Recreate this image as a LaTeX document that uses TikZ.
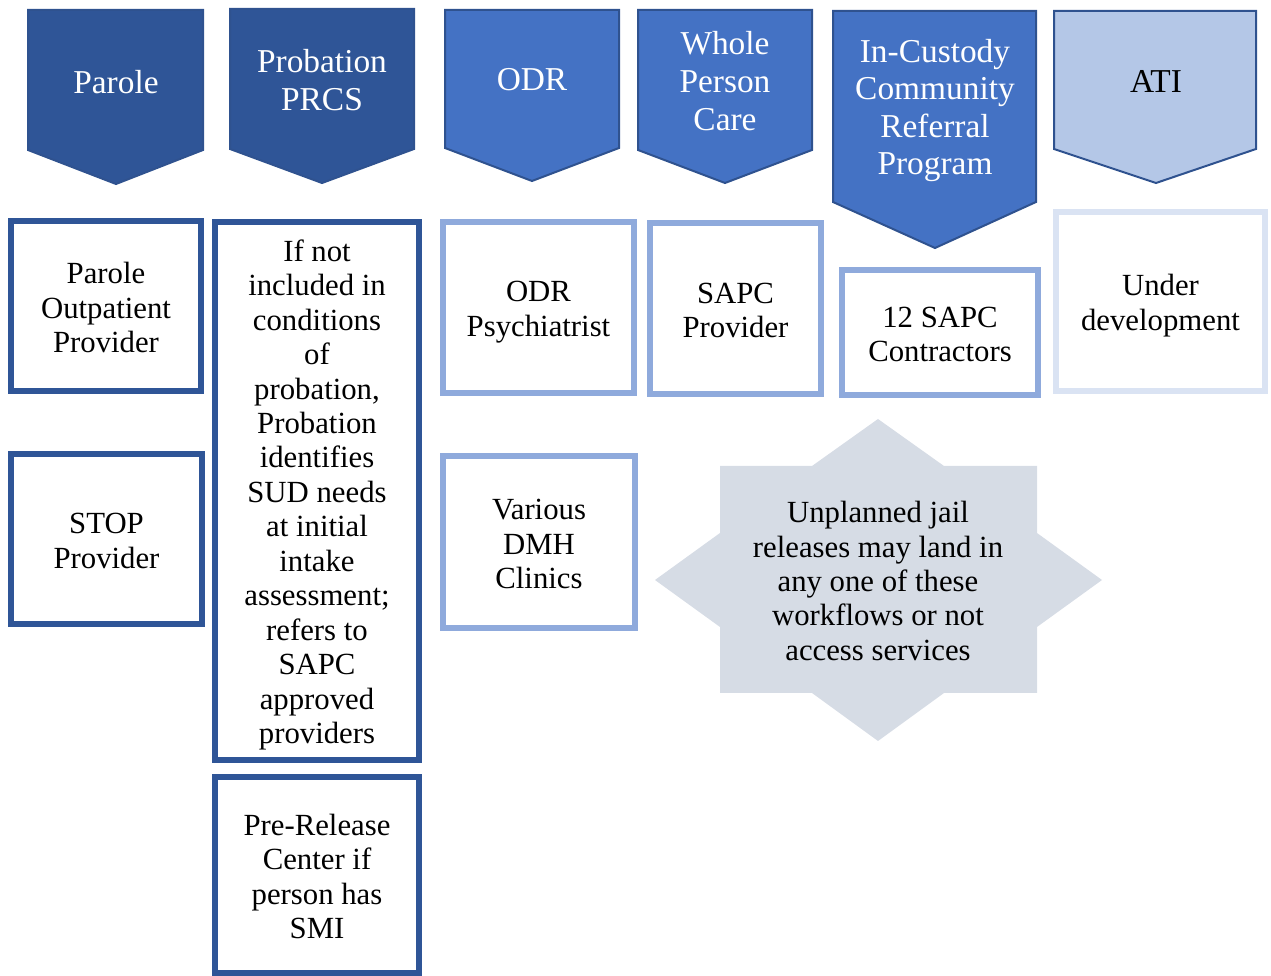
\documentclass[tikz,border=0pt]{standalone}
\usepackage{fontspec}
\setmainfont{Liberation Serif}
\usepackage{tikz}
\usetikzlibrary{positioning}

\definecolor{navy}{HTML}{2F5597}
\definecolor{edgeblue}{HTML}{2F528F}
\definecolor{midblue}{HTML}{4472C4}
\definecolor{paleblue}{HTML}{B4C7E7}
\definecolor{lineblue}{HTML}{8FAADC}
\definecolor{faintblue}{HTML}{DAE3F3}
\definecolor{slate}{HTML}{D6DCE5}

% fixed top and bottom of the text block so every card centres it the same way
\newcommand{\cardlines}[1]{\rule{0pt}{16.7pt}#1\rule[-2.9pt]{0pt}{2.9pt}}

\begin{document}
\begin{tikzpicture}[x=0.2mm, y=-0.2mm,
  head/.style={line width=0.4mm, draw=edgeblue, line join=miter},
  headdark/.style={head, fill=navy},
  headmid/.style={head, fill=midblue},
  headpale/.style={head, fill=paleblue},
  headtxt/.style={align=center, text=white, inner sep=0pt,
                  font=\fontsize{19}{21.4}\selectfont},
  card/.style={draw, line width=1.2mm, fill=white, inner sep=0pt, align=center,
               font=\fontsize{17.5}{19.6}\selectfont},
  carddark/.style={card, draw=navy},
  cardlight/.style={card, draw=lineblue},
  cardfaint/.style={card, draw=faintblue},
]
\useasboundingbox (0,0) rectangle (1271,976);

% column heads
\draw[headdark] (28,10) -- (203,10) -- (203,150) -- (116,184) -- (28,150) -- cycle;
\node[headtxt] (parole) at (116,82) {Parole};
\draw[headdark] (230,9) -- (414,9) -- (414,149) -- (322,183) -- (230,149) -- cycle;
\node[headtxt] (probation) at (322,80) {Probation\\PRCS};
\draw[headmid] (445,10) -- (619,10) -- (619,148) -- (532,181) -- (445,148) -- cycle;
\node[headtxt] (odr) at (532,80) {ODR};
\draw[headmid] (638,10) -- (812,10) -- (812,150) -- (725,183) -- (638,150) -- cycle;
\node[headtxt] (wpc) at (725,81) {Whole\\Person\\Care};
\draw[headmid] (833,11) -- (1036,11) -- (1036,202) -- (935,248) -- (833,202) -- cycle;
\node[headtxt] (custody) at (935,110.5) {In-Custody\\Community\\Referral\\Program};
\draw[headpale] (1054,11) -- (1256,11) -- (1256,149) -- (1156,183) -- (1054,149) -- cycle;
\node[headtxt, text=black] (ati) at (1156,81) {ATI};

% provider boxes
\node[carddark, minimum width=38mm, minimum height=34mm] (outpt) at (106,306)
  {\cardlines{Parole\\Outpatient\\Provider}};
\node[carddark, minimum width=38.2mm, minimum height=34mm] (stop) at (106.5,539)
  {\cardlines{STOP\\Provider}};
\node[carddark, minimum width=40.8mm, minimum height=107.6mm] (intake) at (317,491)
  {\cardlines{If not\\included in\\conditions\\of\\probation,\\Probation\\identifies\\SUD needs\\at initial\\intake\\assessment;\\refers to\\SAPC\\approved\\providers}};
\node[carddark, minimum width=40.8mm, minimum height=39.2mm] (prerel) at (317,875)
  {\cardlines{Pre-Release\\Center if\\person has\\SMI}};
\node[cardlight, minimum width=38.2mm, minimum height=34.2mm] (psych) at (538.5,307.5)
  {\cardlines{ODR\\Psychiatrist}};
\node[cardlight, minimum width=38.4mm, minimum height=34.4mm] (dmh) at (539,542)
  {\cardlines{Various\\DMH\\Clinics}};
\node[cardlight, minimum width=34.2mm, minimum height=34.2mm] (sapc) at (735.5,308.5)
  {\cardlines{SAPC\\Provider}};
\node[cardlight, minimum width=39.2mm, minimum height=25mm] (contract) at (940,332.5)
  {\cardlines{12 SAPC\\Contractors}};
\node[cardfaint, minimum width=41.8mm, minimum height=35.8mm] (undev) at (1160.5,301.5)
  {\cardlines{Under\\development}};

% star note
\fill[slate] (878,419) -- (944,466) -- (1037,466) -- (1037,533) -- (1102,580)
  -- (1037,627) -- (1037,693) -- (944,693) -- (878,741) -- (812,693)
  -- (720,693) -- (720,627) -- (655,580) -- (720,533) -- (720,466)
  -- (812,466) -- cycle;
\node[align=center, inner sep=0pt, font=\fontsize{17.5}{19.6}\selectfont] (note) at (878,581)
  {Unplanned jail\\releases may land in\\any one of these\\workflows or not\\access services};

\end{tikzpicture}
\end{document}
